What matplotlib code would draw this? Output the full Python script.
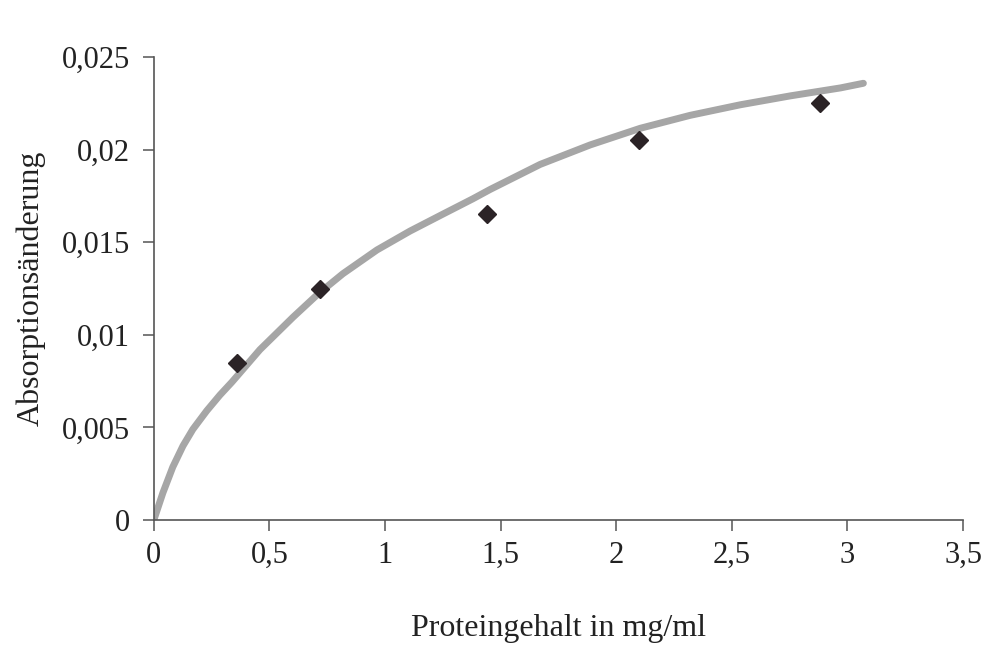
import matplotlib
matplotlib.use("Agg")
import matplotlib.pyplot as plt

# data points (measured)
protein = [0.36, 0.72, 1.44, 2.10, 2.88]
absorb = [0.0085, 0.0125, 0.0165, 0.0205, 0.0225]

# fitted trend curve
curve_x = [0.0, 0.039, 0.082, 0.126, 0.169, 0.229, 0.286, 0.338, 0.459, 0.602,
           0.710, 0.818, 0.965, 1.108, 1.251, 1.381, 1.455, 1.671, 1.887, 2.104,
           2.320, 2.537, 2.753, 2.970, 3.069]
curve_y = [0.0, 0.00146, 0.00286, 0.00400, 0.00490, 0.00590, 0.00675, 0.00745,
           0.00920, 0.01095, 0.01220, 0.01330, 0.01458, 0.01560, 0.01652, 0.01735,
           0.01785, 0.01920, 0.02025, 0.02115, 0.02185, 0.02242, 0.02290, 0.02333,
           0.02358]

x_ticks = [0, 0.5, 1, 1.5, 2, 2.5, 3, 3.5]
x_labels = ["0", "0,5", "1", "1,5", "2", "2,5", "3", "3,5"]
y_ticks = [0, 0.005, 0.01, 0.015, 0.02, 0.025]
y_labels = ["0", "0,005", "0,01", "0,015", "0,02", "0,025"]

plt.rcParams['font.family'] = ['Liberation Serif', 'DejaVu Serif']

fig = plt.figure(figsize=(9.86, 6.46), dpi=100)
ax = fig.add_axes([0.156, 0.195, 0.8207, 0.7168])

ax.plot(curve_x, curve_y, color="#a6a6a6", linewidth=5.0, solid_capstyle="round",
        solid_joinstyle="round", zorder=2)
ax.plot(protein, absorb, linestyle="none", marker="D", markersize=9.5,
        color="#2b2326", zorder=3)

ax.set_xlim(0, 3.5)
ax.set_ylim(0, 0.025)
ax.set_xticks(x_ticks)
ax.set_xticklabels(x_labels)
ax.set_yticks(y_ticks)
ax.set_yticklabels(y_labels)

for s in ("top", "right"):
    ax.spines[s].set_visible(False)
for s in ("left", "bottom"):
    ax.spines[s].set_color("#555555")
    ax.spines[s].set_linewidth(1.2)

ax.tick_params(axis="both", direction="out", length=8, width=1.1,
               color="#555555", labelsize=22, labelcolor="#222222")
ax.tick_params(axis="x", pad=7)
ax.tick_params(axis="y", pad=9)

ax.set_xlabel("Proteingehalt in mg/ml", fontsize=23, color="#222222", labelpad=32)
ax.set_ylabel("Absorptionsänderung", fontsize=23, color="#222222", labelpad=12)

fig.savefig("out.png", dpi=100, facecolor="white")
